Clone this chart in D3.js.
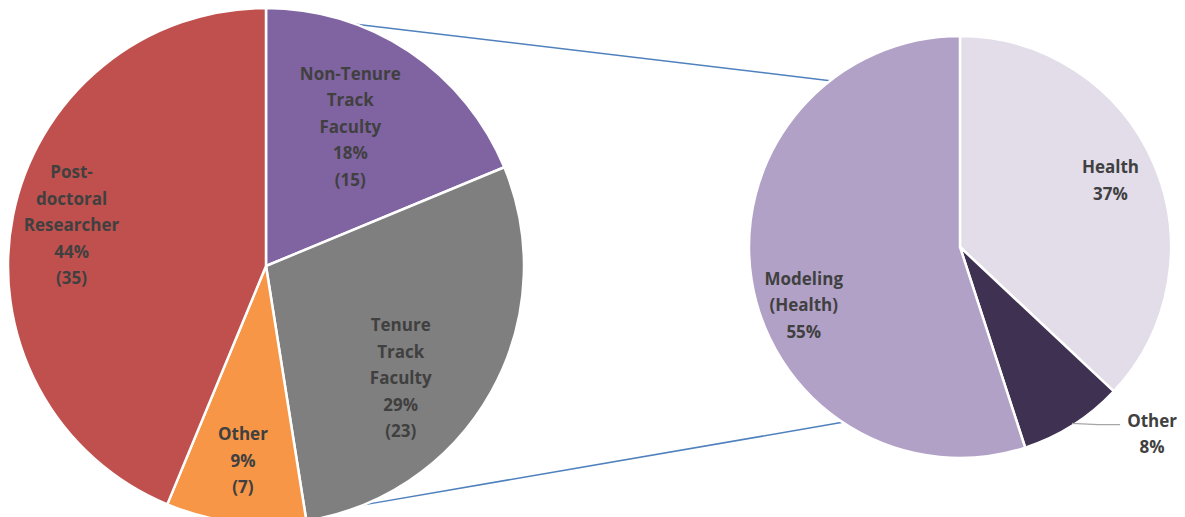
<!DOCTYPE html>
<html>
<head>
<meta charset="utf-8">
<script src="https://cdn.jsdelivr.net/npm/d3@7"></script>
<style>
  html, body { margin: 0; padding: 0; background: #fff; }
  svg { display: block; }
  text { font-family: "Open Sans", "Noto Sans", sans-serif; font-weight: 700; fill: #404040; }
</style>
</head>
<body>
<svg id="chart" width="1185" height="517"></svg>
<script>
// ---- Data ----
const mainCategories = ["Non-Tenure Track Faculty", "Tenure Track Faculty", "Other", "Post-doctoral Researcher"];
const mainLabelLines = [["Non-Tenure", "Track", "Faculty"], ["Tenure", "Track", "Faculty"], ["Other"], ["Post-", "doctoral", "Researcher"]];
const mainCounts = [15, 23, 7, 35];
const mainPercents = [18, 29, 9, 44];
const mainColors = ["#8064a2", "#7f7f7f", "#f79646", "#c0504d"];

const subCategories = ["Health", "Other", "Modeling (Health)"];
const subLabelLines = [["Health"], ["Other"], ["Modeling", "(Health)"]];
const subPercents = [37, 8, 55];
const subColors = ["#e2dde9", "#3f3151", "#b2a1c7"];

// ---- Layout ----
const svg = d3.select("#chart");
const L = { cx: 266, cy: 266, r: 258 };
const R = { cx: 960, cy: 247, r: 211 };
const lineH = 26.5;
// label placement: fraction of radius and angle nudge (degrees)
const mainLabelPos = [{ f: 0.63, da: -2.5 }, { f: 0.68, da: 10.6 }, { f: 0.76, da: 0 }, { f: 0.77, da: 0.6 }];
const subLabelPos = [{ f: 0.78, da: -0.5 }, { f: 1.27, da: -13.4 }, { f: 0.79, da: -11.4 }];

const pie = d3.pie().sort(null).value(d => d);
const mainArcs = pie(mainCounts);
const subArcs = pie(subPercents);

function polar(c, ang, rad) {
  return [c.cx + rad * Math.sin(ang), c.cy - rad * Math.cos(ang)];
}

// connector lines from the left pie's edge to the right pie's edge
const deg = Math.PI / 180;
const conn = [
  [polar(L, 20.4 * deg, L.r), polar(R, -38.0 * deg, R.r)],
  [polar(L, 157.8 * deg, L.r), polar(R, 213.8 * deg, R.r)]
];
svg.append("g").selectAll("line").data(conn).join("line")
  .attr("x1", d => d[0][0]).attr("y1", d => d[0][1])
  .attr("x2", d => d[1][0]).attr("y2", d => d[1][1])
  .attr("stroke", "#4f81bd").attr("stroke-width", 1.5);

// ---- Left pie ----
const arcL = d3.arc().innerRadius(0).outerRadius(L.r);
const gL = svg.append("g").attr("transform", `translate(${L.cx},${L.cy})`);
gL.selectAll("path").data(mainArcs).join("path")
  .attr("d", arcL)
  .attr("fill", (d, i) => mainColors[i])
  .attr("stroke", "#fff").attr("stroke-width", 2.5).attr("stroke-linejoin", "round");

mainArcs.forEach((a, i) => {
  const mid = (a.startAngle + a.endAngle) / 2 + mainLabelPos[i].da * deg;
  const [x, y] = polar(L, mid, mainLabelPos[i].f * L.r);
  const lines = mainLabelLines[i].concat([mainPercents[i] + "%", "(" + mainCounts[i] + ")"]);
  const t = svg.append("text").attr("text-anchor", "middle").attr("font-size", 17);
  const y0 = y - (lines.length - 1) / 2 * lineH;
  lines.forEach((s, k) => {
    t.append("tspan").attr("x", x).attr("y", y0 + k * lineH).attr("dy", "0.35em").text(s);
  });
});

// ---- Right pie ----
const arcR = d3.arc().innerRadius(0).outerRadius(R.r);
const gR = svg.append("g").attr("transform", `translate(${R.cx},${R.cy})`);
gR.selectAll("path").data(subArcs).join("path")
  .attr("d", arcR)
  .attr("fill", (d, i) => subColors[i])
  .attr("stroke", "#fff").attr("stroke-width", 2.5).attr("stroke-linejoin", "round");

subArcs.forEach((a, i) => {
  const midRaw = (a.startAngle + a.endAngle) / 2;
  const mid = midRaw + subLabelPos[i].da * deg;
  const [x, y] = polar(R, mid, subLabelPos[i].f * R.r);
  const lines = subLabelLines[i].concat([subPercents[i] + "%"]);
  const t = svg.append("text").attr("text-anchor", "middle").attr("font-size", 17);
  const y0 = y - (lines.length - 1) / 2 * lineH;
  lines.forEach((s, k) => {
    t.append("tspan").attr("x", x).attr("y", y0 + k * lineH).attr("dy", "0.35em").text(s);
  });
  if (subLabelPos[i].f > 1) {
    // leader line from slice edge to the label
    const p0 = polar(R, midRaw, R.r * 0.99);
    const xe = x - 32;
    const ye = y0 + 4;
    svg.append("polyline")
      .attr("points", [p0, [xe - 22, ye], [xe, ye]].map(p => p.join(",")).join(" "))
      .attr("fill", "none").attr("stroke", "#a6a6a6").attr("stroke-width", 1.2);
  }
});
</script>
</body>
</html>
